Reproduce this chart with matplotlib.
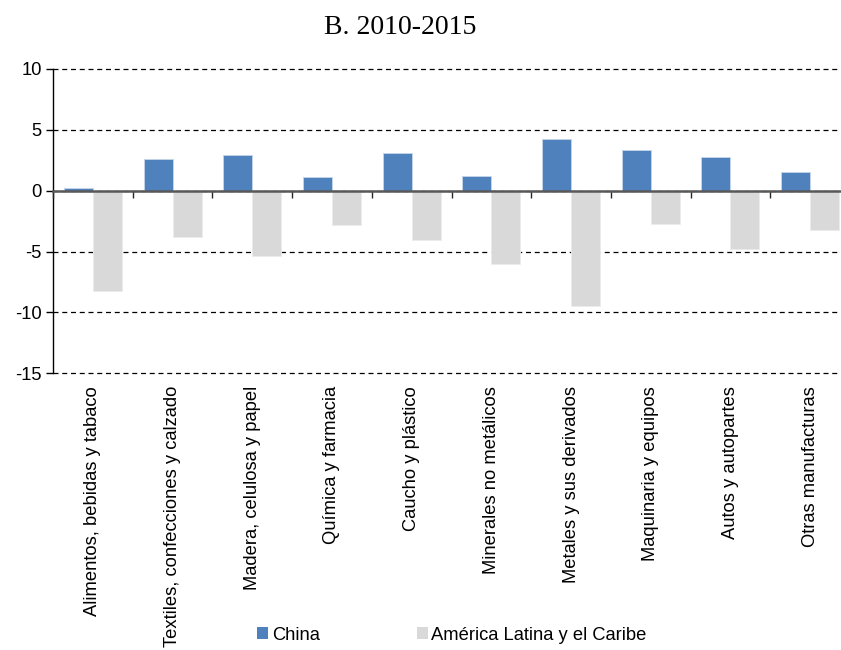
import matplotlib
matplotlib.use("Agg")
import matplotlib.pyplot as plt
import numpy as np
from matplotlib.patches import Patch

categories = [
    "Alimentos, bebidas y tabaco",
    "Textiles, confecciones y calzado",
    "Madera, celulosa y papel",
    "Química y farmacia",
    "Caucho y plástico",
    "Minerales no metálicos",
    "Metales y sus derivados",
    "Maquinaria y equipos",
    "Autos y autopartes",
    "Otras manufacturas",
]
china = [0.19, 2.6, 2.93, 1.12, 3.07, 1.2, 4.27, 3.34, 2.74, 1.51]
lac = [-8.2, -3.84, -5.34, -2.79, -4.08, -6.05, -9.48, -2.74, -4.79, -3.26]
series_names = ["China", "América Latina y el Caribe"]
yticks = [-15, -10, -5, 0, 5, 10]
title = "B. 2010-2015"

C_CHINA = "#4F81BD"
C_LAC = "#D9D9D9"

plt.rcParams["font.family"] = ["Liberation Sans", "DejaVu Sans"]

fig = plt.figure(figsize=(8.41, 6.5), dpi=100)
ax = fig.add_axes([53 / 841, 1 - 373.3 / 650, 797 / 841, (373.3 - 69) / 650])

x = np.arange(len(categories))
w = 0.364
ax.bar(x - w / 2, china, width=w, color=C_CHINA, edgecolor="#c6d6ea", linewidth=0.6, zorder=3)
ax.bar(x + w / 2, lac, width=w, color=C_LAC, edgecolor="#ececec", linewidth=0.6, zorder=3)

ax.set_xlim(-0.5, len(categories) - 0.5)
ax.set_ylim(-15, 10)
ax.set_yticks(yticks)
ax.set_yticklabels([str(v) for v in yticks], fontsize=13.2)
ax.tick_params(axis="y", length=5, width=1, pad=3, colors="black")

ax.set_xticks(x)
ax.set_xticklabels(categories, rotation=90, fontsize=13.2, va="top", ha="center")
ax.tick_params(axis="x", length=0, pad=9)

for s in ["top", "right", "bottom"]:
    ax.spines[s].set_visible(False)
ax.spines["left"].set_color("black")
ax.spines["left"].set_linewidth(1)

ax.set_axisbelow(True)
ax.yaxis.grid(True, linestyle=(0, (4, 3)), color="black", linewidth=0.9)
for gl in ax.get_ygridlines():
    gl.set_clip_on(False)

# zero line with boundary ticks
sec = ax.secondary_xaxis(15 / 25)
sec.set_alignment("bottom")
sec.set_zorder(10)
sec.set_xticks(np.arange(len(categories) + 1) - 0.5)
sec.set_xticklabels([])
sec.tick_params(axis="x", length=5, width=1, direction="out", colors="#262626")
sec.spines["bottom"].set_color("#595959")
sec.spines["bottom"].set_linewidth(1.8)
sec.spines["top"].set_visible(False)

fig.text(400 / 841, 1 - 27 / 650, title, ha="center", va="center",
         fontsize=20, family=["Liberation Serif", "DejaVu Serif"])

handles = [Patch(facecolor=C_CHINA), Patch(facecolor=C_LAC)]
fig.legend(handles, series_names, loc="center", bbox_to_anchor=(452 / 841, 1 - 635 / 650),
           ncol=2, frameon=False, fontsize=13.2, handlelength=0.6, handleheight=0.6,
           handletextpad=0.2, columnspacing=5.3)

fig.savefig("out.png", dpi=100)
